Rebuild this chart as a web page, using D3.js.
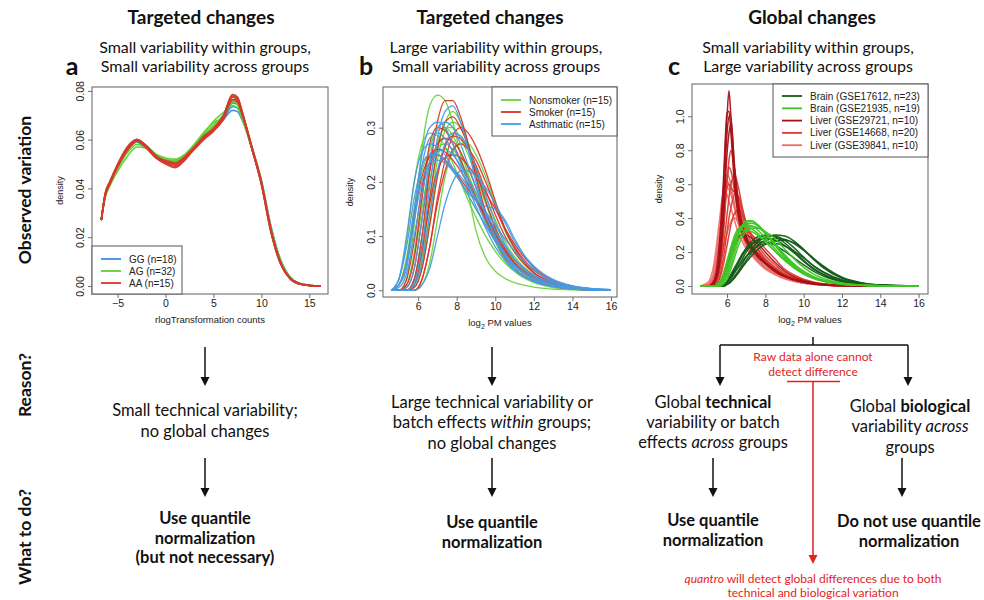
<!DOCTYPE html>
<html><head><meta charset="utf-8">
<script src="https://cdn.jsdelivr.net/npm/d3@7"></script>
<style>body{margin:0;background:#fff}svg{display:block}</style>
</head><body>
<svg id="fig" width="984" height="600"></svg>
<script>
// ---------------- DATA ----------------
const rowLabels = ["Observed variation", "Reason?", "What to do?"];
const panelLetters = ["a", "b", "c"];
const panelTitles = ["Targeted changes", "Targeted changes", "Global changes"];
const panelSubtitles = [
  ["Small variability within groups,", "Small variability across groups"],
  ["Large variability within groups,", "Small variability across groups"],
  ["Small variability within groups,", "Large variability across groups"]
];

// Panel a : rlogTransformation counts
const xTicksA = [-5, 0, 5, 10, 15];
const yTicksA = [0, 0.02, 0.04, 0.06, 0.08];
const gridA = [-6.7,-6.3,-5.8,-5,-4,-3,-2,-1,0,1,2,3,4,5,6,7,7.5,8,9,10,11,12,13,14,15,16.2];
const labelsA = ["GG (n=18)", "AG (n=32)", "AA (n=15)"];
const curvesGG = [
  [0.027,0.037,0.042,0.049,0.056,0.0595,0.057,0.053,0.0515,0.0505,0.053,0.057,0.0615,0.0645,0.068,0.072,0.0715,0.068,0.0565,0.043,0.024,0.0105,0.0035,0.001,0.0003,0],
  [0.027,0.037,0.042,0.0485,0.0555,0.059,0.0565,0.053,0.0515,0.0505,0.0525,0.0565,0.0605,0.064,0.0685,0.0735,0.073,0.069,0.057,0.0435,0.0245,0.0107,0.0036,0.001,0.0003,0],
  [0.027,0.0375,0.0425,0.049,0.056,0.060,0.057,0.053,0.051,0.050,0.0525,0.0565,0.061,0.064,0.0685,0.075,0.0745,0.070,0.0565,0.0425,0.0235,0.010,0.0034,0.001,0.0003,0],
  [0.027,0.037,0.042,0.049,0.0555,0.0595,0.057,0.0535,0.0515,0.051,0.053,0.057,0.0615,0.0645,0.069,0.0755,0.075,0.0705,0.057,0.043,0.0235,0.010,0.0034,0.001,0.0003,0]
];
const curvesAG = [
  [0.027,0.036,0.041,0.047,0.053,0.057,0.0565,0.0535,0.0515,0.051,0.0535,0.058,0.063,0.067,0.069,0.076,0.0745,0.0695,0.0565,0.0425,0.0235,0.0105,0.0035,0.001,0.0003,0],
  [0.027,0.037,0.042,0.0485,0.0555,0.0595,0.057,0.0535,0.052,0.0515,0.0535,0.057,0.0615,0.066,0.070,0.0775,0.076,0.070,0.0565,0.0425,0.023,0.0098,0.0033,0.0009,0.0002,0],
  [0.027,0.0375,0.0425,0.049,0.0565,0.060,0.0575,0.054,0.0525,0.052,0.054,0.058,0.0625,0.0675,0.071,0.074,0.073,0.0685,0.0565,0.043,0.024,0.0105,0.0035,0.001,0.0003,0],
  [0.027,0.037,0.042,0.049,0.056,0.0595,0.057,0.0535,0.0515,0.0505,0.053,0.057,0.0615,0.065,0.0695,0.0785,0.0775,0.0715,0.057,0.042,0.022,0.009,0.003,0.0008,0.0002,0],
  [0.027,0.0365,0.0415,0.048,0.0545,0.058,0.0565,0.053,0.0515,0.051,0.0535,0.0575,0.062,0.0655,0.0695,0.0755,0.075,0.0705,0.0575,0.043,0.0235,0.010,0.0034,0.001,0.0003,0]
];
const curvesAA = [
  [0.027,0.037,0.042,0.049,0.056,0.0598,0.057,0.053,0.0515,0.0505,0.053,0.057,0.061,0.0645,0.069,0.0775,0.076,0.0705,0.0565,0.042,0.0225,0.0095,0.003,0.0008,0.0002,0],
  [0.027,0.038,0.043,0.050,0.057,0.060,0.0575,0.0535,0.0505,0.049,0.052,0.0565,0.0605,0.0635,0.0685,0.078,0.077,0.071,0.057,0.0425,0.023,0.0095,0.003,0.0008,0.0002,0],
  [0.027,0.037,0.042,0.049,0.0555,0.0595,0.057,0.0525,0.050,0.0485,0.0515,0.0565,0.0605,0.064,0.0695,0.0765,0.0755,0.0705,0.0565,0.0415,0.022,0.009,0.003,0.0008,0.0002,0],
  [0.027,0.0375,0.0425,0.0495,0.0565,0.060,0.0575,0.053,0.051,0.050,0.0525,0.0565,0.0615,0.0645,0.0695,0.0785,0.0775,0.0715,0.0565,0.042,0.0225,0.0095,0.003,0.0008,0.0002,0],
  [0.027,0.037,0.042,0.049,0.056,0.0595,0.0565,0.0525,0.0505,0.0495,0.052,0.056,0.060,0.0635,0.068,0.0765,0.076,0.0705,0.057,0.0425,0.023,0.0095,0.0032,0.0009,0.0002,0]
];

// Panel b : log2 PM values
const xTicksB = [6, 8, 10, 12, 14, 16];
const yTicksB = [0, 0.1, 0.2, 0.3];
const gridB = [4.6,5.0,5.4,5.8,6.2,6.6,7.0,7.4,7.8,8.2,8.6,9.0,9.5,10.0,10.5,11.0,12.0,13.0,14.0,15.0,16.0];
const labelsB = ["Nonsmoker (n=15)", "Smoker (n=15)", "Asthmatic (n=15)"];
const curvesNonsmoker = [
  [0,0,0.02,0.12,0.26,0.34,0.36,0.35,0.31,0.25,0.18,0.11,0.06,0.035,0.022,0.014,0.006,0.002,0.001,0,0],
  [0,0,0,0.02,0.10,0.20,0.27,0.30,0.30,0.28,0.25,0.21,0.16,0.115,0.08,0.055,0.025,0.01,0.004,0.001,0],
  [0,0,0,0.005,0.04,0.12,0.21,0.27,0.29,0.285,0.26,0.225,0.175,0.13,0.09,0.062,0.028,0.011,0.004,0.001,0],
  [0,0,0.01,0.06,0.15,0.23,0.265,0.27,0.26,0.24,0.21,0.18,0.14,0.105,0.075,0.052,0.024,0.01,0.004,0.001,0],
  [0,0,0,0.01,0.06,0.16,0.26,0.31,0.33,0.31,0.27,0.21,0.14,0.09,0.055,0.035,0.014,0.005,0.002,0,0],
  [0,0.01,0.06,0.15,0.22,0.25,0.25,0.24,0.22,0.20,0.175,0.15,0.12,0.09,0.065,0.045,0.022,0.01,0.004,0.001,0],
  [0,0,0,0,0.01,0.05,0.13,0.21,0.255,0.27,0.27,0.25,0.21,0.16,0.11,0.075,0.032,0.012,0.004,0.001,0],
  [0,0,0.01,0.07,0.17,0.26,0.295,0.30,0.285,0.255,0.215,0.175,0.13,0.09,0.06,0.04,0.017,0.007,0.003,0.001,0],
  [0,0,0,0.01,0.05,0.14,0.24,0.295,0.31,0.30,0.27,0.225,0.165,0.115,0.075,0.05,0.02,0.008,0.003,0.001,0],
  [0,0.02,0.09,0.2,0.27,0.29,0.285,0.265,0.235,0.2,0.165,0.135,0.1,0.072,0.05,0.035,0.016,0.007,0.003,0.001,0]
];
const curvesSmoker = [
  [0,0,0,0.02,0.10,0.22,0.31,0.35,0.35,0.32,0.27,0.21,0.145,0.095,0.06,0.04,0.017,0.007,0.002,0,0],
  [0,0,0,0.01,0.07,0.17,0.26,0.31,0.32,0.30,0.265,0.22,0.165,0.115,0.077,0.05,0.022,0.009,0.003,0.001,0],
  [0,0,0,0,0.02,0.08,0.17,0.24,0.285,0.30,0.29,0.265,0.22,0.165,0.115,0.078,0.033,0.013,0.005,0.001,0],
  [0,0,0.02,0.09,0.19,0.25,0.26,0.255,0.24,0.22,0.195,0.17,0.135,0.10,0.072,0.05,0.024,0.011,0.005,0.002,0],
  [0,0,0.005,0.04,0.13,0.22,0.27,0.28,0.275,0.255,0.225,0.19,0.145,0.105,0.072,0.05,0.022,0.009,0.003,0.001,0],
  [0,0,0,0.005,0.04,0.12,0.21,0.265,0.285,0.28,0.26,0.23,0.185,0.14,0.10,0.07,0.032,0.014,0.005,0.001,0],
  [0,0,0,0.02,0.08,0.16,0.22,0.245,0.25,0.245,0.23,0.21,0.18,0.15,0.115,0.085,0.042,0.018,0.007,0.002,0],
  [0,0,0.01,0.06,0.17,0.27,0.30,0.295,0.27,0.24,0.205,0.17,0.13,0.095,0.065,0.045,0.02,0.008,0.003,0.001,0],
  [0,0,0,0,0.02,0.08,0.16,0.22,0.26,0.27,0.26,0.24,0.2,0.155,0.112,0.08,0.037,0.016,0.006,0.002,0],
  [0,0.01,0.05,0.14,0.21,0.245,0.25,0.24,0.225,0.205,0.185,0.165,0.14,0.11,0.08,0.057,0.027,0.012,0.005,0.002,0]
];
const curvesAsthmatic = [
  [0,0.01,0.05,0.15,0.25,0.30,0.31,0.30,0.27,0.235,0.20,0.165,0.125,0.09,0.063,0.044,0.02,0.009,0.003,0.001,0],
  [0,0,0,0.015,0.08,0.19,0.28,0.33,0.34,0.31,0.26,0.20,0.14,0.095,0.062,0.04,0.017,0.007,0.002,0,0],
  [0,0.01,0.05,0.13,0.20,0.235,0.24,0.235,0.22,0.20,0.18,0.165,0.155,0.15,0.13,0.095,0.04,0.016,0.006,0.002,0],
  [0,0.02,0.10,0.20,0.255,0.27,0.265,0.25,0.225,0.20,0.175,0.15,0.12,0.09,0.066,0.047,0.023,0.011,0.005,0.002,0],
  [0,0,0,0.01,0.05,0.14,0.22,0.27,0.29,0.285,0.26,0.225,0.175,0.125,0.085,0.058,0.026,0.011,0.004,0.001,0],
  [0,0.005,0.03,0.10,0.18,0.235,0.255,0.26,0.25,0.23,0.205,0.18,0.145,0.11,0.08,0.057,0.028,0.014,0.007,0.003,0.001],
  [0,0,0,0,0.01,0.04,0.10,0.16,0.20,0.22,0.22,0.21,0.19,0.16,0.125,0.09,0.045,0.02,0.008,0.003,0.001],
  [0,0.01,0.04,0.13,0.23,0.28,0.29,0.28,0.255,0.225,0.19,0.155,0.115,0.08,0.055,0.037,0.016,0.007,0.003,0.001,0],
  [0,0,0.005,0.04,0.13,0.24,0.3,0.31,0.3,0.27,0.23,0.19,0.14,0.1,0.068,0.046,0.02,0.009,0.003,0.001,0],
  [0,0.02,0.08,0.17,0.23,0.25,0.25,0.24,0.225,0.21,0.19,0.17,0.145,0.12,0.095,0.072,0.038,0.018,0.008,0.003,0.001]
];

// Panel c : log2 PM values, five datasets
const xTicksC = [6, 8, 10, 12, 14, 16];
const yTicksC = [0, 0.2, 0.4, 0.6, 0.8, 1.0];
const gridC = [4.6,5.0,5.3,5.6,5.8,6.0,6.1,6.2,6.4,6.6,6.8,7.0,7.3,7.6,8.0,8.5,9.0,9.5,10.0,10.5,11,12,13,14,16];
const labelsC = ["Brain (GSE17612, n=23)", "Brain (GSE21935, n=19)", "Liver (GSE29721, n=10)", "Liver (GSE14668, n=20)", "Liver (GSE39841, n=10)"];
const curvesGSE17612 = [
  [0,0,0,0,0.005,0.02,0.03,0.045,0.08,0.12,0.16,0.2,0.245,0.275,0.295,0.295,0.27,0.225,0.17,0.12,0.082,0.034,0.012,0.004,0],
  [0,0,0,0,0.01,0.03,0.045,0.06,0.1,0.14,0.18,0.215,0.25,0.27,0.28,0.27,0.24,0.195,0.145,0.1,0.068,0.028,0.01,0.003,0],
  [0,0,0,0,0,0.01,0.015,0.025,0.05,0.08,0.11,0.14,0.18,0.215,0.245,0.265,0.27,0.255,0.215,0.165,0.12,0.052,0.02,0.006,0],
  [0,0,0,0,0.01,0.03,0.05,0.07,0.11,0.15,0.19,0.22,0.25,0.26,0.26,0.24,0.205,0.165,0.125,0.088,0.06,0.025,0.009,0.003,0],
  [0,0,0,0,0,0.01,0.02,0.03,0.06,0.09,0.13,0.17,0.22,0.26,0.285,0.3,0.295,0.265,0.215,0.16,0.11,0.045,0.016,0.005,0],
  [0,0,0,0,0.005,0.02,0.03,0.045,0.08,0.11,0.145,0.175,0.21,0.235,0.25,0.25,0.235,0.205,0.165,0.12,0.085,0.036,0.013,0.004,0],
  [0,0,0,0,0,0.01,0.015,0.025,0.05,0.08,0.115,0.15,0.2,0.24,0.27,0.28,0.275,0.25,0.21,0.16,0.115,0.048,0.018,0.006,0],
  [0,0,0,0,0.005,0.025,0.04,0.055,0.095,0.14,0.185,0.225,0.265,0.29,0.3,0.29,0.255,0.205,0.15,0.105,0.07,0.028,0.01,0.003,0]
];
const curvesGSE21935 = [
  [0,0,0,0.01,0.04,0.1,0.14,0.18,0.26,0.32,0.36,0.385,0.385,0.36,0.31,0.24,0.17,0.115,0.075,0.047,0.03,0.011,0.004,0.001,0],
  [0,0,0,0.02,0.06,0.13,0.17,0.21,0.28,0.33,0.355,0.36,0.355,0.33,0.285,0.22,0.16,0.11,0.072,0.046,0.029,0.011,0.004,0.001,0],
  [0,0,0,0,0.02,0.06,0.09,0.12,0.2,0.27,0.31,0.335,0.35,0.345,0.31,0.25,0.185,0.13,0.088,0.057,0.036,0.014,0.005,0.001,0],
  [0,0,0,0.02,0.07,0.14,0.18,0.22,0.28,0.315,0.33,0.33,0.32,0.3,0.26,0.205,0.155,0.11,0.075,0.05,0.032,0.013,0.005,0.001,0],
  [0,0,0,0.01,0.03,0.08,0.12,0.16,0.24,0.31,0.355,0.375,0.38,0.36,0.315,0.245,0.175,0.12,0.078,0.05,0.032,0.012,0.004,0.001,0],
  [0,0,0,0,0.01,0.04,0.07,0.1,0.17,0.24,0.29,0.32,0.34,0.34,0.32,0.28,0.22,0.16,0.11,0.072,0.046,0.018,0.006,0.002,0],
  [0,0,0,0.01,0.03,0.08,0.11,0.15,0.23,0.3,0.345,0.365,0.37,0.355,0.315,0.25,0.18,0.125,0.082,0.053,0.034,0.013,0.005,0.001,0],
  [0,0,0,0.02,0.07,0.15,0.19,0.23,0.3,0.34,0.35,0.35,0.335,0.31,0.265,0.205,0.15,0.105,0.07,0.045,0.029,0.011,0.004,0.001,0]
];
const curvesGSE29721 = [
  [0,0,0.02,0.2,0.55,1.0,1.15,1.0,0.62,0.42,0.32,0.27,0.22,0.18,0.13,0.085,0.055,0.035,0.022,0.013,0.008,0.003,0.001,0,0],
  [0,0,0.03,0.25,0.6,1.02,1.03,0.9,0.58,0.40,0.31,0.26,0.21,0.17,0.13,0.09,0.06,0.04,0.025,0.015,0.009,0.003,0.001,0,0],
  [0,0,0.01,0.15,0.45,0.9,1.0,1.0,0.66,0.45,0.34,0.28,0.22,0.18,0.135,0.09,0.058,0.036,0.022,0.013,0.008,0.003,0.001,0,0],
  [0,0,0,0.02,0.06,0.12,0.16,0.2,0.26,0.29,0.30,0.30,0.28,0.25,0.20,0.14,0.09,0.055,0.033,0.02,0.012,0.004,0.001,0,0],
  [0,0,0.01,0.12,0.38,0.78,0.9,0.95,0.7,0.48,0.36,0.29,0.23,0.19,0.14,0.095,0.06,0.038,0.024,0.014,0.008,0.003,0.001,0,0]
];
const curvesGSE14668 = [
  [0,0,0.01,0.08,0.22,0.42,0.52,0.6,0.65,0.58,0.46,0.37,0.28,0.22,0.16,0.11,0.07,0.045,0.028,0.017,0.01,0.004,0.001,0,0],
  [0,0,0.02,0.15,0.35,0.58,0.6,0.58,0.55,0.52,0.42,0.33,0.25,0.2,0.15,0.1,0.065,0.04,0.025,0.015,0.009,0.003,0.001,0,0],
  [0,0,0,0.04,0.12,0.24,0.3,0.36,0.43,0.45,0.42,0.37,0.3,0.24,0.18,0.125,0.08,0.05,0.03,0.018,0.011,0.004,0.001,0,0],
  [0,0,0,0.01,0.04,0.09,0.12,0.16,0.23,0.28,0.31,0.32,0.30,0.27,0.22,0.16,0.1,0.065,0.04,0.024,0.014,0.005,0.002,0,0],
  [0,0,0.01,0.1,0.3,0.62,0.74,0.8,0.68,0.5,0.38,0.3,0.23,0.18,0.135,0.09,0.058,0.036,0.022,0.013,0.008,0.003,0.001,0,0],
  [0,0,0.02,0.12,0.32,0.62,0.7,0.68,0.55,0.42,0.34,0.28,0.22,0.18,0.135,0.09,0.058,0.036,0.022,0.013,0.008,0.003,0.001,0,0],
  [0,0,0,0.05,0.16,0.32,0.4,0.46,0.54,0.53,0.45,0.37,0.28,0.22,0.16,0.11,0.07,0.045,0.028,0.017,0.01,0.004,0.001,0,0]
];
const curvesGSE39841 = [
  [0,0.01,0.08,0.32,0.52,0.62,0.6,0.56,0.45,0.36,0.29,0.24,0.19,0.15,0.11,0.075,0.048,0.03,0.018,0.011,0.006,0.002,0.001,0,0],
  [0,0.005,0.05,0.25,0.45,0.58,0.57,0.54,0.46,0.37,0.3,0.25,0.2,0.16,0.115,0.078,0.05,0.031,0.019,0.011,0.006,0.002,0.001,0,0],
  [0,0.02,0.12,0.38,0.55,0.54,0.5,0.46,0.38,0.31,0.26,0.22,0.18,0.14,0.1,0.068,0.043,0.027,0.016,0.01,0.006,0.002,0.001,0,0],
  [0,0,0.03,0.12,0.22,0.31,0.35,0.38,0.4,0.37,0.33,0.29,0.24,0.2,0.15,0.1,0.065,0.04,0.024,0.014,0.008,0.003,0.001,0,0],
  [0,0.01,0.06,0.28,0.5,0.66,0.64,0.6,0.48,0.37,0.3,0.24,0.19,0.15,0.11,0.075,0.048,0.03,0.018,0.011,0.006,0.002,0.001,0,0]
];

// Flow-chart texts: segments [text, style] (n normal, b bold, i italic)
const reasonA = [[["Small technical variability;","n"]],[["no global changes","n"]]];
const reasonB = [[["Large technical variability or","n"]],[["batch effects ","n"],["within","i"],[" groups;","n"]],[["no global changes","n"]]];
const reasonC1 = [[["Global ","n"],["technical","b"]],[["variability or batch","n"]],[["effects ","n"],["across","i"],[" groups","n"]]];
const reasonC2 = [[["Global ","n"],["biological","b"]],[["variability ","n"],["across","i"]],[["groups","n"]]];
const actionA = ["Use quantile", "normalization", "(but not necessary)"];
const actionB = ["Use quantile", "normalization"];
const actionC1 = ["Use quantile", "normalization"];
const actionC2 = ["Do not use quantile", "normalization"];
const redNote = ["Raw data alone cannot", "detect difference"];
const redBottom = [[["quantro","i"],[" will detect global differences due to both","n"]],[["technical and biological variation","n"]]];

// ---------------- DRAWING ----------------
const svg = d3.select("#fig");
const AX_FONT = "'Liberation Sans', Arial, sans-serif";
const TXT_FONT = "Lato, 'Open Sans', sans-serif";
const RED = "#e3231c";

const panels = [
  {box:[92,328,87,294], xDom:[-7.67,16.95], yDom:[-0.0033,0.0816], xTicks:xTicksA, yTicks:yTicksA, yFmt:d=>d.toFixed(2),
   xFmt:d=> d<0 ? "\u2212"+Math.abs(d) : String(d), grid:gridA, xTitle:"rlog", lw:1.6,
   groups:[{curves:curvesGG,color:"#3b8fe0"},{curves:curvesAG,color:"#5ed12f"},{curves:curvesAA,color:"#d8372c"}],
   legend:{box:[92,182,246,294], rows:[259,271,283], items:[[labelsA[0],"#3b8fe0"],[labelsA[1],"#5ed12f"],[labelsA[2],"#d8372c"]]},
   densX:63},
  {box:[383,617,87,297], xDom:[4.18,16.31], yDom:[-0.0124,0.375], xTicks:xTicksB, yTicks:yTicksB, yFmt:d=>d.toFixed(1),
   xFmt:d=>String(d), grid:gridB, xTitle:"log2", lw:1.3,
   groups:[{curves:curvesNonsmoker,color:"#66d43a"},{curves:curvesSmoker,color:"#d9352b"},{curves:curvesAsthmatic,color:"#4a9be0"}],
   legend:{box:[492,617,87,136], rows:[100,112,124], items:[[labelsB[0],"#66d43a"],[labelsB[1],"#d9352b"],[labelsB[2],"#4a9be0"]]},
   densX:353},
  {box:[692,928,84,294], xDom:[4.17,16.49], yDom:[-0.047,1.19], xTicks:xTicksC, yTicks:yTicksC, yFmt:d=>d.toFixed(1),
   xFmt:d=>String(d), grid:gridC, xTitle:"log2", lw:1.5,
   groups:[{curves:curvesGSE39841,color:"#f26c66"},{curves:curvesGSE14668,color:"#dd3a33"},{curves:curvesGSE29721,color:"#a61218"},
           {curves:curvesGSE17612,color:"#155c18"},{curves:curvesGSE21935,color:"#3fc626"}],
   legend:{box:[773,928,84,157], rows:[96,108.3,120.6,132.9,145.2],
           items:[[labelsC[0],"#155c18"],[labelsC[1],"#3fc626"],[labelsC[2],"#a61218"],[labelsC[3],"#dd3a33"],[labelsC[4],"#f26c66"]]},
   densX:662}
];

panels.forEach((p) => {
  const [L,R,T,B] = p.box;
  const x = d3.scaleLinear().domain(p.xDom).range([L,R]);
  const y = d3.scaleLinear().domain(p.yDom).range([B,T]);
  const g = svg.append("g");
  const line = d3.line().x(d=>x(d[0])).y(d=>y(d[1])).curve(d3.curveMonotoneX);
  p.groups.forEach(grp => {
    grp.curves.forEach(vals => {
      g.append("path").attr("d", line(p.grid.map((gx,i)=>[gx, vals[i]])))
        .attr("fill","none").attr("stroke",grp.color).attr("stroke-width",p.lw).attr("stroke-opacity",0.95);
    });
  });
  // frame
  g.append("rect").attr("x",L).attr("y",T).attr("width",R-L).attr("height",B-T)
    .attr("fill","none").attr("stroke","#6e6e6e").attr("stroke-width",1.1);
  // axes
  const xa = g.append("g").attr("transform",`translate(0,${B})`)
    .call(d3.axisBottom(x).tickValues(p.xTicks).tickSize(4).tickPadding(2).tickFormat(p.xFmt));
  xa.select(".domain").remove();
  xa.selectAll("line").attr("stroke","#6e6e6e");
  xa.selectAll("text").attr("font-family",AX_FONT).attr("font-size",10.5).attr("fill","#222");
  const ya = g.append("g").attr("transform",`translate(${L},0)`)
    .call(d3.axisLeft(y).tickValues(p.yTicks).tickSize(4).tickFormat(p.yFmt));
  ya.select(".domain").remove();
  ya.selectAll("line").attr("stroke","#6e6e6e");
  ya.selectAll("text").attr("font-family",AX_FONT).attr("font-size",10.5).attr("fill","#222")
    .attr("transform","rotate(-90)").attr("x",0).attr("y",-8).attr("dy",0).attr("text-anchor","middle");
  // axis titles
  g.append("text").attr("transform",`translate(${p.densX},${(T+B)/2}) rotate(-90)`)
    .attr("text-anchor","middle").attr("font-family",AX_FONT).attr("font-size",9).attr("fill","#222").text("density");
  const xt = g.append("text").attr("x",(L+R)/2).attr("y",B+29).attr("text-anchor","middle")
    .attr("font-family",AX_FONT).attr("font-size",9.5).attr("fill","#222");
  if (p.xTitle === "rlog") xt.text("rlogTransformation counts");
  else { xt.append("tspan").text("log"); xt.append("tspan").attr("font-size",7).attr("dy",2.5).text("2");
         xt.append("tspan").attr("dy",-2.5).text(" PM values"); }
  // legend
  const lg = p.legend;
  g.append("rect").attr("x",lg.box[0]).attr("y",lg.box[2]).attr("width",lg.box[1]-lg.box[0]).attr("height",lg.box[3]-lg.box[2])
    .attr("fill","#fff").attr("stroke","#555").attr("stroke-width",1);
  lg.items.forEach((it,i) => {
    g.append("line").attr("x1",lg.box[0]+9).attr("x2",lg.box[0]+29).attr("y1",lg.rows[i]).attr("y2",lg.rows[i])
      .attr("stroke",it[1]).attr("stroke-width",1.8);
    g.append("text").attr("x",lg.box[0]+37).attr("y",lg.rows[i]).attr("dy","0.35em")
      .attr("font-family",AX_FONT).attr("font-size",10).attr("fill","#222").text(it[0]);
  });
});

// ---- headers ----
const colTitleX = [201, 490, 812];
const colSubX = [205, 496, 808];
const letterX = [72, 366, 674];
panelTitles.forEach((t,i) => {
  svg.append("text").attr("x",colTitleX[i]).attr("y",24).attr("text-anchor","middle")
    .attr("font-family",TXT_FONT).attr("font-weight","bold").attr("font-size",19).attr("fill","#111").text(t);
  panelSubtitles[i].forEach((s,j) => {
    svg.append("text").attr("x",colSubX[i]).attr("y",52.5+j*19).attr("text-anchor","middle")
      .attr("font-family",TXT_FONT).attr("font-size",16).attr("fill","#111").text(s);
  });
  svg.append("text").attr("x",letterX[i]).attr("y",75).attr("text-anchor","middle")
    .attr("font-family",TXT_FONT).attr("font-weight","bold").attr("font-size",25).attr("fill","#111").text(panelLetters[i]);
});
const rowY = [190, 385, 537];
rowLabels.forEach((t,i) => {
  svg.append("text").attr("transform",`translate(31,${rowY[i]}) rotate(-90)`).attr("text-anchor","middle")
    .attr("font-family",TXT_FONT).attr("font-weight","bold").attr("font-size",17.5).attr("fill","#111").text(t);
});

// ---- flow helpers ----
function arrow(xp, y1, y2, color) {
  svg.append("line").attr("x1",xp).attr("x2",xp).attr("y1",y1).attr("y2",y2-7)
    .attr("stroke",color).attr("stroke-width",1.5);
  svg.append("path").attr("d",`M${xp-4.5},${y2-9} L${xp+4.5},${y2-9} L${xp},${y2} Z`).attr("fill",color);
}
function rich(lines, cx, y0, dy, size, color) {
  lines.forEach((segs,j) => {
    const t = svg.append("text").attr("x",cx).attr("y",y0+j*dy).attr("text-anchor","middle")
      .attr("font-family",TXT_FONT).attr("font-size",size).attr("fill",color);
    segs.forEach(s => {
      const ts = t.append("tspan").text(s[0]);
      if (s[1]==="b") ts.attr("font-weight","bold");
      if (s[1]==="i") ts.attr("font-style","italic");
    });
  });
}
function boldLines(lines, cx, y0, dy, size) {
  lines.forEach((s,j) => svg.append("text").attr("x",cx).attr("y",y0+j*dy).attr("text-anchor","middle")
    .attr("font-family",TXT_FONT).attr("font-weight","bold").attr("font-size",size).attr("fill","#111").text(s));
}

// column a
arrow(205, 347, 386, "#111");
rich(reasonA, 205, 416, 21, 16.5, "#111");
arrow(205, 458, 497, "#111");
boldLines(actionA, 205, 524, 19.5, 16.5);
// column b
arrow(492, 347, 386, "#111");
rich(reasonB, 492, 407.5, 20.5, 16.5, "#111");
arrow(492, 458, 497, "#111");
boldLines(actionB, 492, 528, 20, 16.5);
// column c
svg.append("path").attr("d","M813,337 L813,345 M720,345 L908,345").attr("stroke","#111").attr("stroke-width",1.5).attr("fill","none");
arrow(720, 345, 386, "#111");
arrow(908, 345, 386, "#111");
rich(redNote.map(s=>[[s,"n"]]), 813, 361, 15, 12, RED);
svg.append("line").attr("x1",787).attr("x2",840).attr("y1",381.5).attr("y2",381.5).attr("stroke",RED).attr("stroke-width",1.3);
arrow(813, 381.5, 564, RED);
rich(reasonC1, 713, 407.5, 20, 16.5, "#111");
rich(reasonC2, 910, 411.5, 20.5, 16.5, "#111");
arrow(713, 458, 497, "#111");
arrow(902, 458, 497, "#111");
boldLines(actionC1, 713, 525.5, 20, 16.5);
boldLines(actionC2, 909, 527, 20, 16.5);
rich(redBottom, 813, 583, 14, 12, RED);
</script>
</body></html>
